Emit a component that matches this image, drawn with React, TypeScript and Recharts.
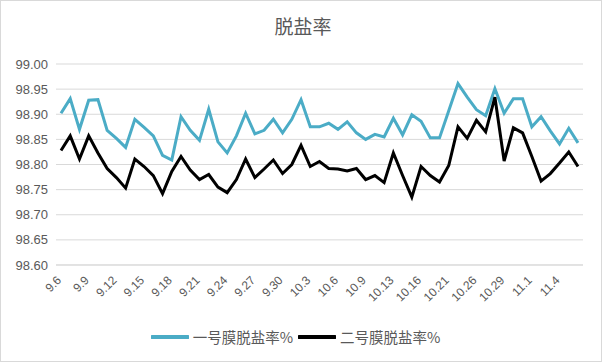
import React from "react";
import { CartesianGrid, Legend, Line, LineChart, XAxis, YAxis } from "recharts";

const dates = [
  "9.6", "9.7", "9.8", "9.9", "9.10", "9.11", "9.12", "9.13", "9.14", "9.15",
  "9.16", "9.17", "9.18", "9.19", "9.20", "9.21", "9.22", "9.23", "9.24", "9.25",
  "9.26", "9.27", "9.28", "9.29", "9.30", "10.1", "10.2", "10.3", "10.4", "10.5",
  "10.6", "10.7", "10.8", "10.9", "10.11", "10.12", "10.13", "10.14", "10.15", "10.16",
  "10.18", "10.20", "10.21", "10.23", "10.25", "10.26", "10.27", "10.28", "10.29", "10.30",
  "10.31", "11.1", "11.2", "11.3", "11.4", "11.5", "11.6",
];

const membrane1 = [
  98.902, 98.931, 98.87, 98.928, 98.929, 98.868, 98.852, 98.834, 98.89, 98.874,
  98.857, 98.818, 98.809, 98.895, 98.868, 98.848, 98.91, 98.845, 98.823, 98.857,
  98.902, 98.861, 98.868, 98.89, 98.863, 98.89, 98.929, 98.875, 98.875, 98.882,
  98.87, 98.885, 98.863, 98.85, 98.86, 98.855, 98.892, 98.859, 98.899, 98.886,
  98.853, 98.853, 98.907, 98.961, 98.934, 98.909, 98.897, 98.951, 98.902, 98.931,
  98.931, 98.875, 98.895, 98.867, 98.841, 98.872, 98.843,
];

const membrane2 = [
  98.828, 98.857, 98.811, 98.857, 98.823, 98.792, 98.774, 98.753, 98.811, 98.796,
  98.778, 98.742, 98.786, 98.816, 98.789, 98.77, 98.78, 98.755, 98.744, 98.77,
  98.811, 98.774, 98.791, 98.809, 98.782, 98.8, 98.838, 98.796, 98.806, 98.792,
  98.791, 98.787, 98.792, 98.77, 98.778, 98.764, 98.823, 98.778, 98.735, 98.796,
  98.778, 98.765, 98.798, 98.875, 98.852, 98.888, 98.865, 98.934, 98.807, 98.873,
  98.863, 98.816, 98.767, 98.782, 98.803, 98.825, 98.796,
];

const yTicks = [98.6, 98.65, 98.7, 98.75, 98.8, 98.85, 98.9, 98.95, 99.0];

const name1 = "一号膜脱盐率%";
const name2 = "二号膜脱盐率%";

const data = dates.map((d, i) => ({ date: d, m1: membrane1[i], m2: membrane2[i] }));

const textColor = "#595959";
const font = "'Liberation Sans', Arial, sans-serif";
const cjkFont = "'Noto Sans CJK SC', 'Liberation Sans', sans-serif";

function DateTick({ x, y, payload }: any) {
  return (
    <g transform={`translate(${x + 1},${y + 8})`}>
      <text
        x={0}
        y={0}
        transform="rotate(-45)"
        textAnchor="end"
        fontSize={12}
        fontFamily={font}
        style={{ fill: textColor }}
      >
        {payload.value}
      </text>
    </g>
  );
}

function LegendBox() {
  const items = [
    { name: name1, color: "#4bacc6" },
    { name: name2, color: "#000000" },
  ];
  return (
    <div
      style={{
        display: "flex",
        justifyContent: "center",
        alignItems: "center",
        paddingTop: 3,
        paddingLeft: 12,
        fontFamily: cjkFont,
        fontSize: 14.5,
        color: textColor,
      }}
    >
      {items.map((it) => (
        <span key={it.name} style={{ display: "flex", alignItems: "center", marginRight: 5 }}>
          <svg width={38} height={10} style={{ marginRight: 4 }}>
            <line x1={1} y1={5} x2={37} y2={5} stroke={it.color} strokeWidth={4} strokeLinecap="round" />
          </svg>
          {it.name}
        </span>
      ))}
    </div>
  );
}

export default function App() {
  return (
    <div style={{ position: "relative", width: 600, height: 360, border: "1px solid #d9d9d9", background: "#fff" }}>
      <style>{`body{margin:0}`}</style>
      <div
        style={{
          position: "absolute",
          top: 11,
          left: 0,
          width: 604,
          textAlign: "center",
          fontFamily: cjkFont,
          fontSize: 19,
          color: textColor,
        }}
      >
        脱盐率
      </div>
      <LineChart width={600} height={360} data={data} margin={{ top: 63, right: 18, left: 0, bottom: 4 }}>
        <CartesianGrid vertical={false} stroke="#d9d9d9" />
        <XAxis
          dataKey="date"
          interval={2}
          tick={<DateTick />}
          tickLine={false}
          axisLine={{ stroke: "#d9d9d9" }}
          height={58}
          padding={{ left: 5, right: 5 }}
        />
        <YAxis
          domain={[98.6, 99.0]}
          ticks={yTicks}
          tickFormatter={(v: number) => v.toFixed(2)}
          tickLine={false}
          axisLine={false}
          width={55}
          tick={{ fill: textColor, fontSize: 13, fontFamily: font }}
        />
        <Legend verticalAlign="bottom" height={34} content={<LegendBox />} />
        <Line
          type="linear"
          dataKey="m1"
          name={name1}
          stroke="#4bacc6"
          strokeWidth={3}
          dot={false}
          isAnimationActive={false}
        />
        <Line
          type="linear"
          dataKey="m2"
          name={name2}
          stroke="#000000"
          strokeWidth={3}
          dot={false}
          isAnimationActive={false}
        />
      </LineChart>
    </div>
  );
}
